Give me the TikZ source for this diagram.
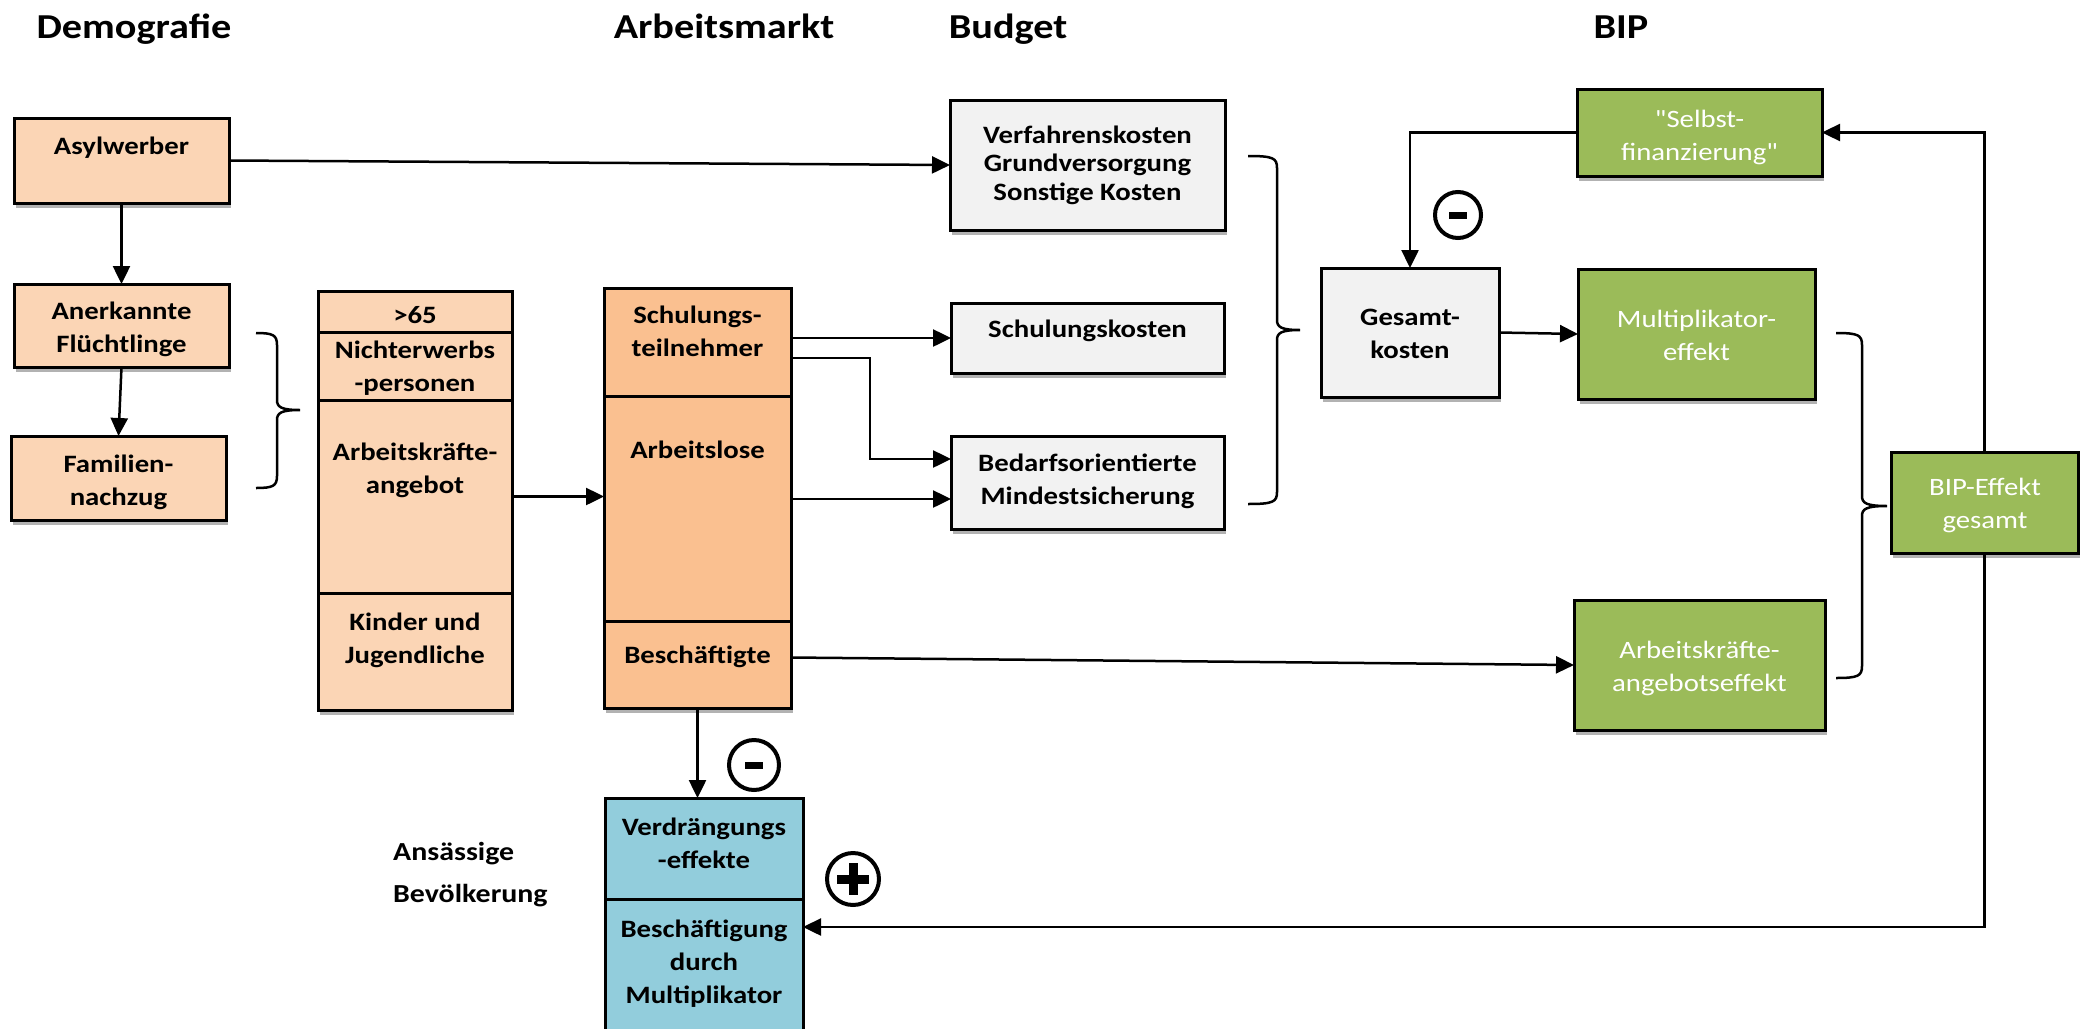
\documentclass[tikz,border=0pt]{standalone}
\usepackage{fontspec}
\setmainfont{Carlito}[FakeStretch=1.15]
\newfontfamily\gfont{Carlito}[FakeStretch=1.15,Ligatures=TeXOff]
\usetikzlibrary{arrows.meta,shadows,calc}
\definecolor{peach}{HTML}{FBD5B5}
\definecolor{orng}{HTML}{FAC090}
\definecolor{lgray}{HTML}{F2F2F2}
\definecolor{grn}{HTML}{9BBB59}
\definecolor{aqua}{HTML}{92CDDC}
\newcommand\ml[2][c]{\begin{tabular}[t]{@{}#1@{}}#2\end{tabular}}
\tikzset{
  box/.style={draw=black, line width=3pt, anchor=north west, inner sep=0pt, outer sep=0pt},
  shad/.style={drop shadow={shadow xshift=2pt, shadow yshift=-5pt, opacity=0.3, fill=black}},
  txt/.style={anchor=base, inner sep=0pt, font=\bfseries\fontsize{25}{33}\selectfont},
  wtxt/.style={anchor=base, inner sep=0pt, text=white, font=\gfont\fontsize{25}{33}\selectfont},
  ttl/.style={anchor=base, inner sep=0pt, font=\bfseries\fontsize{35}{40}\selectfont},
  arr/.style={line width=2.5pt, -{Triangle[length=18pt,width=17pt]}},
  brc/.style={line width=2.5pt},
  sign/.style={circle, draw=black, line width=4pt, minimum size=48pt, inner sep=0pt},
}
\begin{document}
\begin{tikzpicture}[x=1pt,y=-1pt]
\useasboundingbox (0,0) rectangle (2080,1028);
\fill[white] (0,0) rectangle (2080,1028);

% titles
\node[ttl] (t1) at (134,38) {Demografie};
\node[ttl] (t2) at (724,38) {Arbeitsmarkt};
\node[ttl] (t3) at (1008,38) {Budget};
\node[ttl] (t4) at (1621,38) {BIP};

% Demografie
\node[box,shad,fill=peach,minimum width=215pt,minimum height=85pt] (asyl) at (14,118) {};
\node[box,shad,fill=peach,minimum width=215pt,minimum height=83pt] (aner) at (14,284) {};
\node[box,shad,fill=peach,minimum width=215pt,minimum height=84pt] (fam) at (11,436) {};
\node[txt] (asylt) at (121.5,154) {Asylwerber};
\node[txt] (anert) at (121.5,319) {\ml{Anerkannte\\Flüchtlinge}};
\node[txt] (famt) at (118.5,472) {\ml{Familien-\\nachzug}};

% Demografie stack
\node[box,shad,fill=peach,minimum width=194pt,minimum height=419pt] (dstack) at (318,291) {};
\node[box,minimum width=194pt,minimum height=41pt] (d65) at (318,291) {};
\node[box,minimum width=194pt,minimum height=68pt] (dnich) at (318,332) {};
\node[box,minimum width=194pt,minimum height=193pt] (dak) at (318,400) {};
\node[box,minimum width=194pt,minimum height=117pt] (dkin) at (318,593) {};
\node[txt] (d65t) at (415,323) {>65};
\node[txt] (dnicht) at (415,358) {\ml{Nichterwerbs\\-personen}};
\node[txt] (dakt) at (415,460) {\ml{Arbeitskräfte-\\angebot}};
\node[txt] (dkint) at (415,630) {\ml{Kinder und\\Jugendliche}};

% Arbeitsmarkt stack
\node[box,shad,fill=orng,minimum width=187pt,minimum height=420pt] (astack) at (604,288) {};
\node[box,minimum width=187pt,minimum height=108pt] (sch) at (604,288) {};
\node[box,minimum width=187pt,minimum height=225pt] (al) at (604,396) {};
\node[box,minimum width=187pt,minimum height=87pt] (besch) at (604,621) {};
\node[txt] (scht) at (697.5,323) {\ml{Schulungs-\\teilnehmer}};
\node[txt] (alt) at (697.5,458) {Arbeitslose};
\node[txt] (bescht) at (697.5,663) {Beschäftigte};

% Blue stack
\node[box,shad,fill=aqua,minimum width=198pt,minimum height=250pt] (bstack) at (605,798) {};
\node[box,minimum width=198pt,minimum height=101pt] (verd) at (605,798) {};
\node[box,minimum width=198pt,minimum height=150pt] (bm) at (605,899) {};
\node[txt] (verdt) at (704,835) {\ml{Verdrängungs\\-effekte}};
\node[txt] (bmt) at (704,937) {\ml{Beschäftigung\\durch\\Multiplikator}};
\node[txt,anchor=base west,font=\bfseries\fontsize{26}{42}\selectfont] (ans) at (393,860) {\ml[l]{Ansässige\\Bevölkerung}};

% Budget
\node[box,shad,fill=lgray,minimum width=275pt,minimum height=130pt] (verf) at (950,100) {};
\node[box,shad,fill=lgray,minimum width=273pt,minimum height=70pt] (schk) at (951,303) {};
\node[box,shad,fill=lgray,minimum width=273pt,minimum height=93pt] (bed) at (951,436) {};
\node[box,shad,fill=lgray,minimum width=178pt,minimum height=129pt] (ges) at (1321,268) {};
\node[txt,font=\bfseries\fontsize{25}{28.5}\selectfont] (verft) at (1087.5,143) {\ml{Verfahrenskosten\\Grundversorgung\\Sonstige Kosten}};
\node[txt] (schkt) at (1087.5,337) {Schulungskosten};
\node[txt] (bedt) at (1087.5,471) {\ml{Bedarfsorientierte\\Mindestsicherung}};
\node[txt] (gest) at (1410,325) {\ml{Gesamt-\\kosten}};

% BIP
\node[box,shad,fill=grn,minimum width=245pt,minimum height=87pt] (selbst) at (1577,89) {};
\node[box,shad,fill=grn,minimum width=237pt,minimum height=130pt] (multi) at (1578,269) {};
\node[box,shad,fill=grn,minimum width=251pt,minimum height=130pt] (ake) at (1574,600) {};
\node[box,shad,fill=grn,minimum width=187pt,minimum height=101pt] (bip) at (1891,452) {};
\node[wtxt] (selbstt) at (1699.5,127) {\ml{"Selbst-\\finanzierung"}};
\node[wtxt] (multit) at (1696.5,327) {\ml{Multiplikator-\\effekt}};
\node[wtxt] (aket) at (1699.5,658) {\ml{Arbeitskräfte-\\angebotseffekt}};
\node[wtxt] (bipt) at (1985,495) {\ml{BIP-Effekt\\gesamt}};

% signs
\node[sign,minimum size=46pt] (s1) at (1458,215) {};
\fill (s1.center) ++(-9,-3.5) rectangle ++(18,7);
\node[sign,minimum size=50pt] (s2) at (754,765) {};
\fill (s2.center) ++(-9,-3.5) rectangle ++(18,7);
\node[sign,minimum size=52pt] (s3) at (853,879) {};
\fill (s3.center) ++(-16,-4.5) rectangle ++(32,9);
\fill (s3.center) ++(-4.5,-16) rectangle ++(9,32);

% connectors
\draw[arr] (asyl.east) -- (verf.west);
\draw[arr] (asyl.south) -- (aner.north);
\draw[arr] (aner.south) -- (fam.north);
\draw[arr] (dak.east) -- (dak.east -| al.west);
\draw[arr] (sch.east |- schk.west) -- (schk.west);
\coordinate (bedup) at ($(bed.west)+(0,-23.5)$);
\coordinate (bedlo) at ($(bed.west)+(0,16.5)$);
\draw[arr] ($(sch.east)+(0,16)$) -- ++(79,0) |- (bedup);
\draw[arr] (al.east |- bedlo) -- (bedlo);
\draw[arr] ($(besch.east)+(0,-7)$) -- (ake.west);
\draw[arr] (besch.south) -- (besch.south |- verd.north);
\draw[arr] (ges.east) -- (multi.west);
\draw[arr] (selbst.west) -| (ges.north);
\draw[arr] (bip.north) |- (selbst.east);
\coordinate (bmin) at ($(bm.north east)+(0,28)$);
\draw[arr] (bip.south) |- (bmin);

% braces
\draw[brc] (256,333) .. controls (273,333) and (277,335) .. (277,345) -- (277,400)
  .. controls (277,407) and (281,410) .. (300,410)
  .. controls (281,410) and (277,413) .. (277,420) -- (277,476)
  .. controls (277,486) and (273,488) .. (256,488);
\draw[brc] (1248,156) .. controls (1273,156) and (1277,158) .. (1277,168) -- (1277,320)
  .. controls (1277,327) and (1281,330) .. (1300,330)
  .. controls (1281,330) and (1277,333) .. (1277,340) -- (1277,492)
  .. controls (1277,502) and (1273,504) .. (1248,504);
\draw[brc] (1836,333) .. controls (1858,333) and (1862,335) .. (1862,345) -- (1862,496)
  .. controls (1862,503) and (1866,506) .. (1887,506)
  .. controls (1866,506) and (1862,509) .. (1862,516) -- (1862,666)
  .. controls (1862,676) and (1858,678) .. (1836,678);
\end{tikzpicture}
\end{document}
